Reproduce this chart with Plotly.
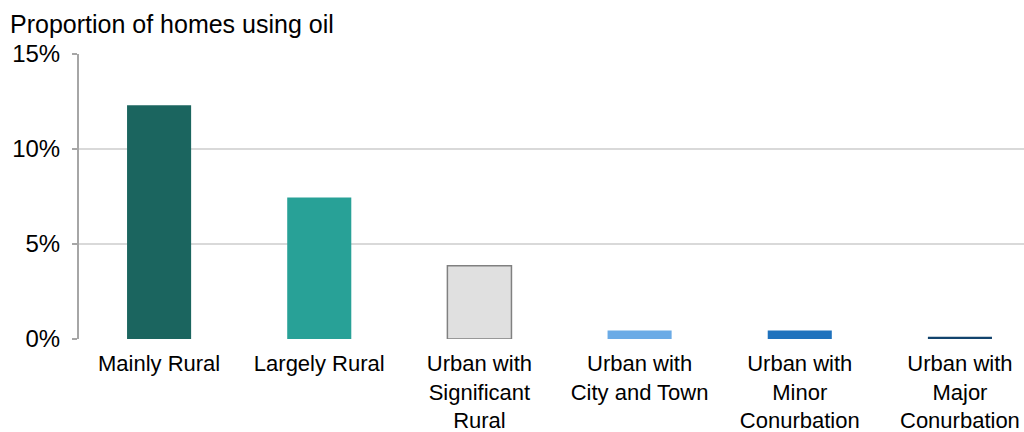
import plotly.graph_objects as go

categories = ["Mainly Rural", "Largely Rural", "Urban with<br>Significant<br>Rural",
              "Urban with<br>City and Town", "Urban with<br>Minor<br>Conurbation",
              "Urban with<br>Major<br>Conurbation"]
values = [12.3, 7.45, 3.85, 0.45, 0.45, 0.12]
colors = ["#1b655f", "#28a197", "#e0e0e0", "#6babe6", "#1f72bd", "#12436d"]
line_colors = ["#1b655f", "#28a197", "#808080", "#6babe6", "#1f72bd", "#12436d"]
line_widths = [0, 0, 1.5, 0, 0, 0]
y_ticks = [0, 5, 10, 15]
y_tick_labels = ["0%", "5%", "10%", "15%"]

FONT = "Liberation Sans, Arial, sans-serif"

fig = go.Figure(go.Bar(
    x=list(range(len(categories))), y=values,
    marker=dict(color=colors, line=dict(color=line_colors, width=line_widths)),
    width=0.4,
))

fig.update_layout(
    width=1024, height=432,
    margin=dict(l=79, r=0, t=54, b=93),
    plot_bgcolor="white", paper_bgcolor="white",
    showlegend=False,
    font=dict(family=FONT, size=22, color="#000000"),
    title=dict(text="Proportion of homes using oil", xref="container", yref="container",
               x=10/1024, xanchor="left", y=1-24/432, yanchor="middle",
               font=dict(family=FONT, size=25, color="#000000")),
    bargap=0.6,
)
fig.update_xaxes(
    tickmode="array", tickvals=list(range(len(categories))), ticktext=categories,
    range=[-0.5, 5.4], showgrid=False, zeroline=False, showline=False,
    ticks="", ticklabelstandoff=9, automargin=False,
    tickfont=dict(family=FONT, size=22, color="#000000"),
)
fig.update_yaxes(
    range=[0, 15], tickmode="array", tickvals=y_ticks, ticktext=y_tick_labels,
    showgrid=True, gridcolor="#d9d9d9", gridwidth=2,
    zeroline=False, showline=True, linecolor="#a6a6a6", linewidth=2,
    ticks="outside", ticklen=5, tickcolor="#a6a6a6", tickwidth=2,
    ticklabelstandoff=7, automargin=False,
    tickfont=dict(family=FONT, size=24, color="#000000"),
)
fig.write_html("out.html")
